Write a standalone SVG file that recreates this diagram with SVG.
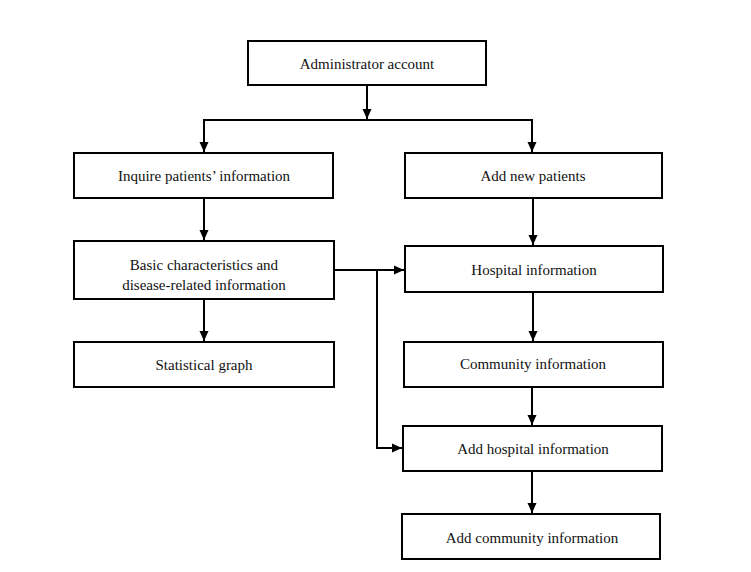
<svg xmlns="http://www.w3.org/2000/svg" width="751" height="572" viewBox="0 0 751 572">
<defs>
<marker id="ah" markerWidth="11" markerHeight="11" refX="10" refY="5.5" orient="auto" markerUnits="userSpaceOnUse">
<path d="M0,1 L10,5.5 L0,10 Z" fill="#000"/>
</marker>
<style>
.box{fill:#fff;stroke:#000;stroke-width:2}
.t{font-family:"Liberation Serif","Times New Roman",serif;font-size:15px;fill:#111;text-anchor:middle;dominant-baseline:central}
.c{fill:none;stroke:#000;stroke-width:2}
</style>
</defs>
<rect width="751" height="572" fill="#fff"/>
<g id="connectors">
<line class="c" x1="367" y1="85" x2="367" y2="119" marker-end="url(#ah)"/>
<polyline class="c" points="204,153 204,120 532,120 532,153"/>
<line class="c" x1="204" y1="145" x2="204" y2="152" marker-end="url(#ah)"/>
<line class="c" x1="532" y1="145" x2="532" y2="152" marker-end="url(#ah)"/>
<line class="c" x1="204" y1="198" x2="204" y2="240" marker-end="url(#ah)"/>
<line class="c" x1="533" y1="198" x2="533" y2="245" marker-end="url(#ah)"/>
<line class="c" x1="334" y1="270" x2="404" y2="270" marker-end="url(#ah)"/>
<polyline class="c" points="377,270 377,448 402,448" marker-end="url(#ah)"/>
<line class="c" x1="204" y1="299" x2="204" y2="341" marker-end="url(#ah)"/>
<line class="c" x1="533" y1="292" x2="533" y2="341" marker-end="url(#ah)"/>
<line class="c" x1="532" y1="387" x2="532" y2="425" marker-end="url(#ah)"/>
<line class="c" x1="532" y1="471" x2="532" y2="513" marker-end="url(#ah)"/>
</g>
<g id="admin"><rect class="box" x="248" y="41" width="238" height="44"/><text class="t" x="367" y="64">Administrator account</text></g>
<g id="inquire"><rect class="box" x="74" y="153" width="259" height="45"/><text class="t" x="204" y="176">Inquire patients’ information</text></g>
<g id="addnew"><rect class="box" x="405" y="153" width="257" height="45"/><text class="t" x="533" y="176">Add new patients</text></g>
<g id="basic"><rect class="box" x="74" y="241" width="260" height="58"/><text class="t" x="204" y="265">Basic characteristics and</text><text class="t" x="204" y="285">disease-related information</text></g>
<g id="hospital"><rect class="box" x="405" y="246" width="258" height="46"/><text class="t" x="534" y="270">Hospital information</text></g>
<g id="stat"><rect class="box" x="74" y="342" width="260" height="45"/><text class="t" x="204" y="365">Statistical graph</text></g>
<g id="community"><rect class="box" x="404" y="342" width="259" height="45"/><text class="t" x="533" y="364">Community information</text></g>
<g id="addhospital"><rect class="box" x="403" y="426" width="259" height="45"/><text class="t" x="533" y="449">Add hospital information</text></g>
<g id="addcommunity"><rect class="box" x="402" y="514" width="258" height="45"/><text class="t" x="532" y="538">Add community information</text></g>
</svg>
